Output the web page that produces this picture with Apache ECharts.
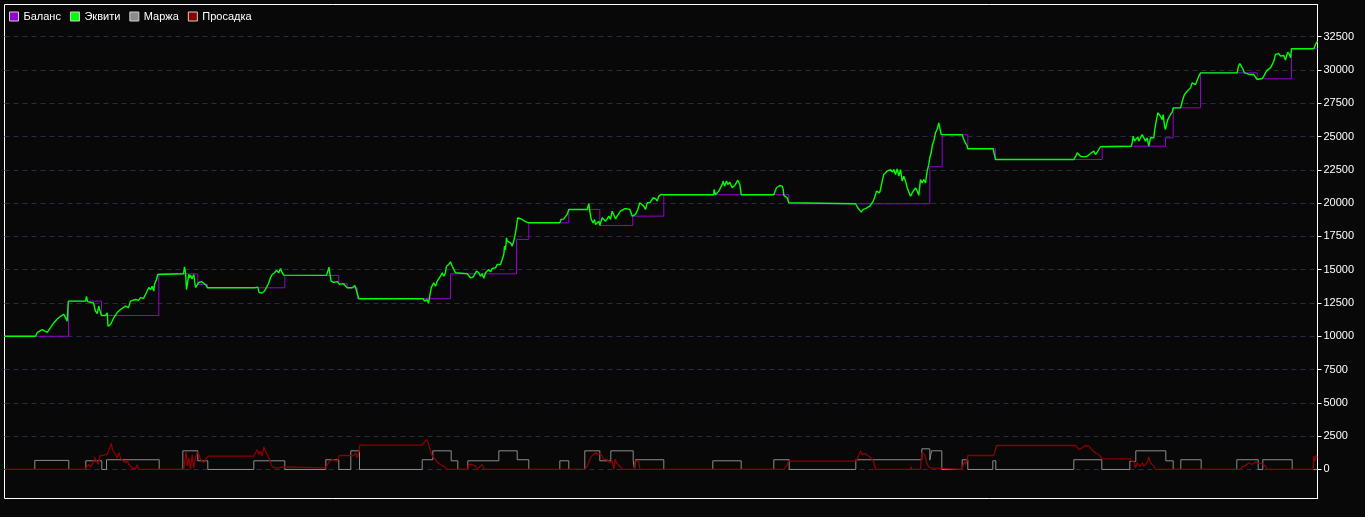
<!DOCTYPE html>
<html>
<head>
<meta charset="utf-8">
<script src="https://cdn.jsdelivr.net/npm/echarts@6/dist/echarts.min.js"></script>
<style>
html,body{margin:0;padding:0;background:#080808;}
#chart{width:1365px;height:517px;}
</style>
</head>
<body>
<div id="chart"></div>
<script>
// Series names
const seriesNames = ['Баланс', 'Эквити', 'Маржа', 'Просадка'];
// Y axis tick labels
const yTicks = [0, 2500, 5000, 7500, 10000, 12500, 15000, 17500, 20000, 22500, 25000, 27500, 30000, 32500];

// Balance: [bar, value] – value holds from this bar until the next entry
const balance = [[4,10000],[68,12640],[101,11560],[158.3,14690],[197.3,13890],[207,13640],[284.3,14570],[338.3,13950],[346.7,13640],[356.7,12820],[450,14690],[516,17270],[528.3,18520],[568.3,19520],[599.3,18320],[632.3,19020],[663.3,20630],[788.3,19950],[929.3,22730],[941.7,25130],[967.3,24080],[995,23270],[1101.7,24270],[1165,24900],[1172.7,27150],[1200,29780],[1256.7,29330],[1291,31590],[1317,31590]];

// Equity: [bar, value]
const equity = [[4,10000],[35,10000],[35,10050],[37,10300],[39,10200],[41.7,10500],[44,10400],[46.7,10300],[48,10450],[50,10650],[51.5,10500],[53.3,11000],[55,10950],[56.7,11300],[58,11250],[60,11500],[61.5,11450],[63.3,11640],[65,11400],[66.7,11130],[67.5,12300],[68,12640],
[85,12640],[86,13000],[87,12600],[88,12500],[90,12550],[92,12450],[93,12500],[95,11890],[96.7,11700],[98.3,12260],[100,11760],[101,11560],[105,11560],[106.7,11760],[107.5,10760],[110,10880],[113.3,11390],[116.7,11780],[120,12010],[122,11900],[125,12260],[128,12150],[130,12640],[132,12600],[135,12760],[138,12700],[140,12900],[143,12850],[145,13140],[148.3,13660],[150,13500],[151.7,13760],[153.3,13390],[154,13900],[156,14260],[157.3,14640],[158.3,14690],
[183,14690],[184,15220],[185,14800],[186,13510],[188.3,14640],[189,14400],[190,14600],[191.5,14300],[193.3,14640],[195,13660],[196.7,13510],[198.3,14040],[199,13900],[201,14100],[203,13950],[205,13890],[207,13640],
[254,13640],[255,13760],[256,13500],[257.3,13690],[258.5,13300],[260,13450],[261.5,13250],[262.7,13140],[264,13400],[265.5,13600],[266.7,13760],[268.3,14020],[270,14390],[271.7,14640],[273,14550],[274,14770],[275.5,14650],[276,14940],[278.3,14770],[280,15090],[281.7,14770],[283.3,14590],[284.3,14570],
[326,14570],[327,14700],[328.5,15190],[329.5,14600],[330.7,14140],[331.7,14140],[333,14050],[335,13950],[337,14100],[339,13900],[341,14050],[343,13950],[345,14000],[346.7,13640],
[351.7,13640],[352.5,13750],[353.5,13500],[354.5,13800],[355.5,13550],[356.7,13640],[358.3,12820],
[422.7,12820],[424,12640],[425.5,12700],[426.7,12750],[428,12480],[429.5,12600],[430,12440],[430.7,13640],[431.7,13800],[433.3,14020],[435,13760],[436.7,14140],[438.3,14260],[440,14510],[441.7,14770],[443.3,14510],[445,14770],[446,15260],[448.3,15390],[450,15590],[451.7,15260],[453.3,15140],[455,14770],[456.7,14690],
[466.7,14690],[467.3,14600],[470,14390],[472.7,14450],[474,14350],[476,14890],[478.3,14770],[480,14510],[481.7,14690],[483.3,14350],[485,14770],[486.7,14890],[488.3,15010],[490,14840],[491.7,15090],[493.3,15010],[495,15140],[496.7,15390],[498.3,15260],[500,15390],[501.7,15770],[502.7,15900],[503.3,16140],[504,16770],[505,16500],[506,17400],[506.7,17150],[508.3,17270],[510,17020],[511.7,16770],[513.3,17150],[515,17770],[516,18270],[517.3,18900],[519.3,19020],[521.7,18770],[524,18640],[526,18770],[528,18520],
[559.3,18520],[560.5,18770],[561.7,18640],[563,18800],[565,18900],[566.7,19150],[568.3,19520],
[584.3,19520],[585,19640],[586.7,19520],[588.3,19970],[589.3,19400],[590.7,18770],[592.7,18520],[594,18770],[595,18390],[596.7,18270],[598.3,18640],[599.3,18320],[601.7,18900],[603.3,18770],[605,18640],[606.7,18820],[608.3,19020],[610,18770],[611.7,19390],[613.3,19270],[615,18820],[616.7,19020],[618.3,19150],[620,19390],[621.7,19520],[624,19570],[626.7,19570],[629.3,19520],[630.7,19390],[631.7,19020],[633.3,19070],[635,19150],[637.3,19520],[639.3,20020],[640.7,19900],[643.3,19770],[645,19520],[646.7,20020],[649.3,20020],[650.7,20150],[652.7,20400],[655,20330],[656.7,20150],[658.3,20520],[660.7,20650],[663.3,20630],
[713.3,20630],[713.5,21020],[715,20630],[716.7,20520],[718.3,20900],[720,21020],[721.7,21400],[722.7,21650],[724,21270],[726,21650],[727.3,21400],[729.3,21570],[731.7,21150],[733.3,21150],[735,21400],[737.3,21720],[739.3,21400],[740,21400],[740.7,20630],
[773.3,20630],[774.3,20830],[776,21150],[777.3,21020],[779.3,21320],[780.7,21400],[781.7,21270],[782.7,21020],[783.3,20580],[785,20480],[786.7,20400],[788.3,20020],[789.3,19950],
[855,19950],[856,19830],[857.3,19650],[859.3,19530],[860.7,19320],[862.7,19530],[865,19580],[866.7,19650],[869.3,19770],[870.7,19900],[872.7,20150],[874,20400],[876,20900],[877.3,21020],[879,20770],[880,21020],[881.7,21650],[883.3,22150],[885,22270],[886.7,22400],[888.3,22270],[890,22520],[891.7,22320],[893.3,22520],[895,22150],[896.7,22570],[898.3,22020],[900,22520],[901.7,21650],[903.3,22020],[905,21650],[906.7,21150],[908.3,21020],[910,20520],[911.7,20770],[913.3,20900],[915,21150],[916.7,20900],[918.3,20580],[920,21770],[921.7,21520],[923.3,21770],[925,21520],[926.7,22400],[928.3,22900],[929.3,23400],[930.7,23780],[932,24400],[933.3,24650],[935,25280],[936.7,25530],[938.3,26030],[939.3,25650],[940.7,25150],[941.7,25130],
[961.7,25130],[962.7,24900],[964,24650],[965.3,24770],[966.7,24270],[967.3,24080],
[992.7,24080],[993.5,24230],[994.3,23500],[995,23270],
[1073.3,23270],[1074,23400],[1075.3,23520],[1076.7,23780],[1078.3,23720],[1080,23520],[1081.7,23400],[1083.3,23470],[1085,23470],[1086.7,23520],[1088.3,23570],[1090,23720],[1091.7,23650],[1093.3,23900],[1095,23650],[1096.7,23830],[1098.3,24020],[1100,24230],[1101.7,24270],
[1130.7,24270],[1131.7,24520],[1132.7,25020],[1134,24650],[1136,24770],[1137.3,24970],[1138.3,24650],[1140,24570],[1141.7,25150],[1143.3,25020],[1145,24650],[1146.7,24900],[1148.3,24270],[1150,24900],[1151.7,24770],[1153.3,24900],[1154.3,25530],[1155.7,26150],[1157.3,26780],[1158.7,26650],[1160,26520],[1161.7,26270],[1162.7,26650],[1164,25770],[1165,25530],[1166,25900],[1167.3,26270],[1168.7,26400],[1170,26650],[1171.7,26830],[1172.7,27150],
[1180,27150],[1181,27400],[1182.3,27780],[1184,28150],[1185.3,28280],[1186.7,28400],[1188.3,28530],[1190,28650],[1191.7,29030],[1193.3,28900],[1195,28900],[1196.7,29030],[1198.3,29530],[1200,29780],
[1236.7,29780],[1238,30280],[1239.3,30480],[1240.7,30280],[1241.7,30150],[1242.7,30020],[1244,29780],[1246,29850],[1247.3,29700],[1250,29650],[1251.7,29600],[1253.3,29650],[1255,29530],[1256.7,29280],[1258.3,29330],[1261.7,29350],[1263.3,29530],[1265,29780],[1266.7,29980],[1268.3,29830],[1270,30150],[1271.7,30020],[1273.3,30650],[1275,31160],[1276.7,31080],[1278.3,31230],[1280,31030],[1281.7,30900],[1283.3,31080],[1285,30730],[1286,31030],[1287.3,31330],[1289,31150],[1290,30900],[1291,31590],
[1313.3,31590],[1314,31500],[1315,31910],[1316,31800],[1317,32160]];

// Margin: [bar, value] – step series
const margin = [[4,0],[34.3,680],[68.3,0],[85.3,650],[101.3,0],[106,730],[158.7,0],[182.3,1400],[197.3,650],[207.3,0],[253.3,650],[284.3,0],[325.3,730],[338.3,0],[350.3,1400],[359,0],[421.7,730],[432.3,1400],[450.7,650],[457.3,0],[467.3,650],[498.3,1400],[516.7,730],[528.3,0],[559.3,650],[568.3,0],[584.3,1400],[599.3,650],[610.3,1400],[632.7,650],[634,0],[635,730],[663.3,0],[712.3,650],[740.7,0],[773.3,730],[788.7,0],[855.3,730],[921.3,1550],[929.3,700],[931,1400],[941.3,0],[961.7,730],[967.3,0],[992.3,650],[995.3,0],[1073.3,730],[1101.3,0],[1129.3,600],[1135.3,1400],[1165.3,650],[1172.7,0],[1180.3,730],[1200.7,0],[1236.3,730],[1257.7,0],[1262.3,730],[1291.7,0],[1317,0]];

// Drawdown: [bar, value]
const drawdown = [[4,0],[85,0],[86,200],[88.3,375],[90,200],[92.7,500],[94.3,875],[96,1000],[97.7,375],[99.3,1000],[100,1125],[106.7,1125],[107.3,1250],[109.3,1630],[110.7,1950],[112,1500],[113.3,1300],[115,1125],[116.7,875],[118.3,1250],[120,875],[121.7,700],[123.3,750],[125,500],[126.7,700],[128.3,375],[130,250],[131.7,125],[133.3,200],[135,50],[136.7,350],[138.3,0],
[183.3,0],[185.7,1375],[186.7,250],[188.3,875],[190,0],[191.7,1125],[193.3,125],[195,875],[196.7,1300],[198.3,1125],[200,750],[201.7,625],[203.3,500],[205,750],[206.7,625],[207.7,1000],
[253.3,1000],[255,1250],[256.7,1500],[258.3,1125],[260,1375],[261.7,1000],[263.3,1700],[265,1375],[266.7,1125],[268.3,875],[270,500],[271.7,200],[273.3,50],[275,125],[276.7,0],[278.3,125],[280,50],[281.7,200],[283.3,125],
[325,125],[326,0],[328,500],[330,625],[331.7,750],[333.3,675],[336.7,625],[338.3,625],[339,1050],[353.3,1050],[355,1250],[356.7,875],[358.3,1300],[359.3,1830],[421.7,1830],[423.3,2000],[426,2250],[427.3,2050],[429.3,2125],[430.7,1200],[432,1000],[433.3,1125],[435,750],[436.7,550],[438.3,625],[440,375],[441.7,500],[443.3,250],[445,375],[446.7,0],
[467.3,0],[468.3,375],[470,500],[471.7,375],[473.3,500],[475,250],[476.7,0],[479.3,200],[481.7,375],[482.7,500],[484,0],
[584.3,0],[586.7,250],[589.3,750],[591.7,1050],[593.3,1125],[595,1250],[596,1375],[597.3,1125],[598.7,1250],[600,1200],[601.7,1050],[603.3,750],[605,875],[606.7,750],[608.3,750],[609.3,500],[610.7,375],[611.7,625],[613.3,0],[614.7,800],[616,500],[617.3,625],[618.7,300],[620,200],[621.7,0],
[634,0],[634.7,625],[636,500],[638.3,625],[639.3,0],
[783.3,0],[786,250],[788.3,625],[855,625],[856.7,800],[858.3,875],[860,1375],[861.7,1125],[863.3,1050],[865,1200],[866.7,1050],[868.3,1000],[870,875],[871.7,750],[873.3,500],[875,0],
[910,0],[910.7,200],[911.5,0],[920,0],[921.3,1250],[922.7,1375],[924,1125],[925.3,1000],[926.7,375],[928,500],[929.3,125],[930,0],
[961.7,0],[962.7,375],[964,625],[965.3,375],[966.7,750],[967.3,1050],[993.3,1050],[996,1800],[1075,1800],[1076.7,1950],[1078.3,1500],[1080,1375],[1081.7,1625],[1083.3,1750],[1085,1800],[1086.7,1700],[1088.3,1750],[1090,1625],[1091.7,1450],[1093.3,1375],[1095,1250],[1096.7,1300],[1098.3,1125],[1100,1050],[1101.7,800],
[1130,800],[1130.7,625],[1131.7,500],[1133.3,625],[1135,125],[1136.7,500],[1138.3,625],[1139.3,250],[1140.7,125],[1142,500],[1143.3,250],[1145,125],[1146.7,500],[1148.3,950],[1150,500],[1151.7,550],[1153.3,250],[1155,0],
[1236.7,0],[1238.3,125],[1240,0],[1241.7,200],[1243.3,125],[1245,300],[1246.7,375],[1248.3,500],[1250,450],[1251.7,375],[1253.3,500],[1255,550],[1256.7,450],[1258.3,450],[1260,450],[1261.7,450],[1263.3,500],[1265,250],[1266.7,0],
[1312.7,0],[1313.3,1000],[1314.5,625],[1315.5,1050],[1316.5,875],[1317,875]];

const colors = ['#9400d3', '#00ff00', '#8c8c8c', '#8b0000'];

const chart = echarts.init(document.getElementById('chart'), null, {renderer: 'canvas'});
const lineSeries = (name, data, color, width, step) => ({
  name: name, type: 'line', data: data, step: step || false,
  showSymbol: false, symbol: 'none', animation: false,
  lineStyle: {color: color, width: width}, itemStyle: {color: color},
  emphasis: {disabled: true}
});
chart.setOption({
  backgroundColor: '#080808',
  animation: false,
  textStyle: {fontFamily: 'Liberation Sans'},
  legend: {
    left: 9, top: 11, padding: 0, itemGap: 9, itemWidth: 9, itemHeight: 9,
    icon: 'rect',
    itemStyle: {borderColor: '#d0d0d0', borderWidth: 1},
    textStyle: {color: '#ffffff', fontSize: 11, fontFamily: 'Liberation Sans'},
    data: seriesNames,
    selectedMode: false
  },
  grid: {left: 4.5, top: 4.5, right: 47.5, bottom: 18.5, show: true, borderColor: '#ffffff', borderWidth: 1, backgroundColor: 'transparent'},
  xAxis: {type: 'value', min: 4, max: 1317, show: false, splitLine: {show: false}},
  yAxis: {
    type: 'value', position: 'right', min: -2180, max: 34910,
    axisLine: {show: true, lineStyle: {color: '#ffffff', width: 1}},
    axisTick: {show: true, length: 4, lineStyle: {color: '#ffffff'}, customValues: yTicks},
    axisLabel: {color: '#ffffff', fontSize: 11, margin: 6, fontFamily: 'Liberation Sans', customValues: yTicks, formatter: v => String(v)},
    splitLine: {show: true, lineStyle: {color: '#2b2b45', type: [5, 4], width: 1}}
  },
  series: [
    lineSeries(seriesNames[0], balance, colors[0], 1, 'end'),
    lineSeries(seriesNames[1], equity, colors[1], 1.4),
    lineSeries(seriesNames[2], margin, colors[2], 1, 'end'),
    lineSeries(seriesNames[3], drawdown, colors[3], 1.3)
  ]
});
</script>
</body>
</html>
